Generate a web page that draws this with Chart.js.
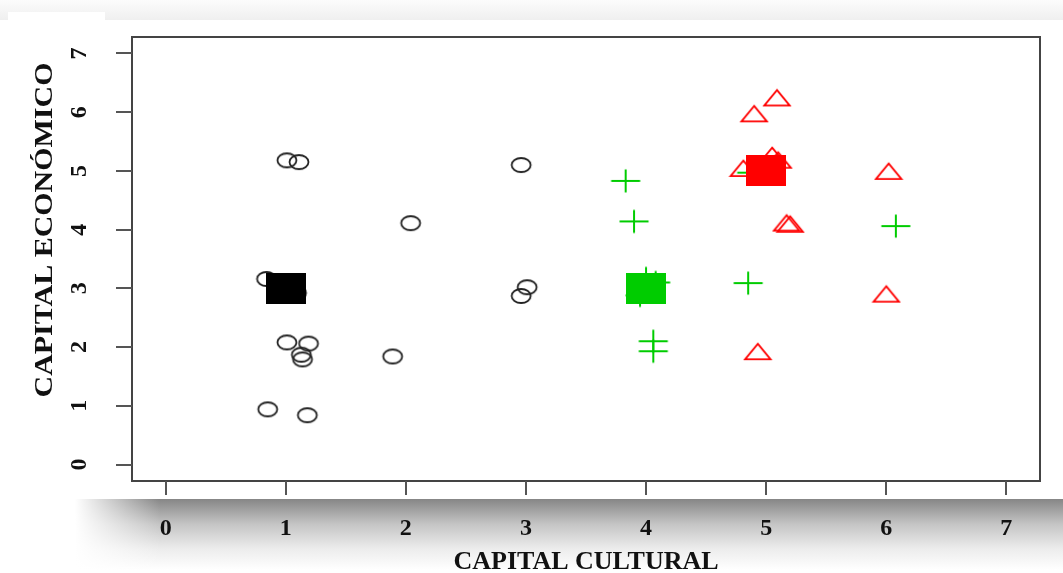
<!DOCTYPE html>
<html>
<head>
<meta charset="utf-8">
<script src="https://cdn.jsdelivr.net/npm/chart.js@4/dist/chart.umd.min.js"></script>
<style>
  html, body { margin: 0; padding: 0; background: #fff; }
  canvas { display: block; }
</style>
</head>
<body>
<canvas id="capChart" width="1063" height="573"></canvas>
<script>
// datos
const xTicks = [0, 1, 2, 3, 4, 5, 6, 7];
const yTicks = [0, 1, 2, 3, 4, 5, 6, 7];

// grupo 1 (círculos negros)
const circX = [1.01, 1.11, 2.96, 2.04, 0.84, 1.09, 3.01, 2.96, 1.01, 1.19, 1.13, 1.14, 1.89, 0.85, 1.18];
const circY = [5.18, 5.15, 5.10, 4.11, 3.16, 2.92, 3.02, 2.87, 2.08, 2.06, 1.87, 1.79, 1.84, 0.94, 0.84];

// grupo 2 (cruces verdes)
const crossX = [3.83, 3.90, 6.08, 4.85, 4.06, 4.06, 4.00, 4.08, 3.95, 4.88];
const crossY = [4.83, 4.14, 4.06, 3.09, 2.10, 1.93, 3.17, 3.10, 2.88, 4.97];

// grupo 3 (triángulos rojos)
const triX = [5.09, 4.90, 5.05, 4.81, 5.10, 6.02, 5.17, 5.20, 6.00, 4.93];
const triY = [6.20, 5.93, 5.22, 5.00, 5.14, 4.95, 4.07, 4.05, 2.86, 1.88];

// centros (cuadrados)
const meanX = [1, 4, 5];
const meanY = [3, 3, 5];
const meanColors = ['#000000', '#00cc00', '#ff0000'];

const toPoints = (xs, ys) => xs.map((x, i) => ({ x: x, y: ys[i] }));

// marcadores estilo R (imagen un poco estirada en horizontal)
function makeCanvas(w, h, draw) {
    const c = document.createElement('canvas');
    c.width = w; c.height = h;
    draw(c.getContext('2d'), w, h);
    return c;
}
const circleImg = makeCanvas(24, 20, (g, w, h) => {
    g.strokeStyle = '#222';
    g.lineWidth = 1.8;
    g.beginPath();
    g.ellipse(w / 2, h / 2, 9.5, 7, 0, 0, Math.PI * 2);
    g.stroke();
});
const crossImg = makeCanvas(32, 26, (g, w, h) => {
    g.strokeStyle = '#00cc00';
    g.lineWidth = 2;
    g.beginPath();
    g.moveTo(w / 2 - 14.5, h / 2); g.lineTo(w / 2 + 14.5, h / 2);
    g.moveTo(w / 2, h / 2 - 11.5); g.lineTo(w / 2, h / 2 + 11.5);
    g.stroke();
});
// el centro del lienzo es el centroide del triángulo
const triImg = makeCanvas(30, 26, (g, w, h) => {
    const th = 15.5, tw = 25.5;
    g.strokeStyle = '#ff0000';
    g.lineWidth = 1.8;
    g.beginPath();
    g.moveTo(w / 2, h / 2 - th * 2 / 3);
    g.lineTo(w / 2 + tw / 2, h / 2 + th / 3);
    g.lineTo(w / 2 - tw / 2, h / 2 + th / 3);
    g.closePath();
    g.stroke();
});
const squareImgs = meanColors.map(col => makeCanvas(40, 31, (g, w, h) => {
    g.fillStyle = col;
    g.fillRect(0, 0, w, h);
}));

const FONT = '"Liberation Serif", "DejaVu Serif", serif';

// fondo con sombra (como la imagen pegada)
const backgroundPlugin = {
    id: 'fondo',
    beforeDraw(chart) {
        const ctx = chart.ctx;
        const W = chart.width, H = chart.height;
        ctx.save();
        ctx.fillStyle = '#fff';
        ctx.fillRect(0, 0, W, H);

        let g = ctx.createLinearGradient(0, 0, 0, 20);
        g.addColorStop(0, '#fcfcfc');
        g.addColorStop(1, '#efefef');
        ctx.fillStyle = g;
        ctx.fillRect(0, 0, W, 20);

        g = ctx.createLinearGradient(0, 499, 0, 570);
        g.addColorStop(0, '#868686');
        g.addColorStop(0.35, '#c4c4c4');
        g.addColorStop(0.7, '#ececec');
        g.addColorStop(1, '#ffffff');
        ctx.fillStyle = g;
        ctx.fillRect(0, 499, W, H - 499);

        g = ctx.createLinearGradient(75, 0, 160, 0);
        g.addColorStop(0, 'rgba(255,255,255,1)');
        g.addColorStop(1, 'rgba(255,255,255,0)');
        ctx.fillStyle = g;
        ctx.fillRect(0, 499, 160, H - 499);

        ctx.fillStyle = '#fff';
        ctx.fillRect(8, 12, 97, 478);
        ctx.fillRect(105, 20, W - 105, 479);
        ctx.restore();
    }
};

// caja, marcas y etiquetas al estilo de R base
const axesPlugin = {
    id: 'ejesR',
    beforeDatasetsDraw(chart) {
        const ctx = chart.ctx;
        const a = chart.chartArea;
        const xs = chart.scales.x, ys = chart.scales.y;
        ctx.save();
        ctx.strokeStyle = '#444';
        ctx.lineWidth = 2;
        ctx.strokeRect(a.left, a.top, a.right - a.left, a.bottom - a.top);

        ctx.strokeStyle = '#555';
        ctx.beginPath();
        xTicks.forEach(v => {
            const px = Math.round(xs.getPixelForValue(v));
            ctx.moveTo(px, a.bottom); ctx.lineTo(px, a.bottom + 14);
        });
        yTicks.forEach(v => {
            const py = Math.round(ys.getPixelForValue(v));
            ctx.moveTo(a.left, py); ctx.lineTo(a.left - 16, py);
        });
        ctx.stroke();

        ctx.fillStyle = '#111';
        ctx.font = 'bold 24px ' + FONT;
        ctx.textAlign = 'center';
        ctx.textBaseline = 'middle';
        xTicks.forEach(v => {
            ctx.fillText(String(v), xs.getPixelForValue(v), 529);
        });
        yTicks.forEach(v => {
            ctx.save();
            ctx.translate(80, ys.getPixelForValue(v));
            ctx.rotate(-Math.PI / 2);
            ctx.fillText(String(v), 0, 0);
            ctx.restore();
        });

        ctx.font = 'bold 26px ' + FONT;
        ctx.fillText('CAPITAL CULTURAL', (a.left + a.right) / 2, 562);

        ctx.save();
        ctx.translate(45, 230);
        ctx.rotate(-Math.PI / 2);
        const t = 'CAPITAL ECONÓMICO';
        const sx = 335 / ctx.measureText(t).width;
        ctx.scale(sx, 1);
        ctx.fillText(t, 0, 0);
        ctx.restore();
        ctx.restore();
    }
};

const ctx = document.getElementById('capChart').getContext('2d');
new Chart(ctx, {
    type: 'scatter',
    data: {
        // order más bajo = se dibuja encima
        datasets: [
            { data: toPoints(meanX, meanY), pointStyle: squareImgs, order: 0 },
            { data: toPoints(triX, triY), pointStyle: triImg, order: 1 },
            { data: toPoints(crossX, crossY), pointStyle: crossImg, order: 2 },
            { data: toPoints(circX, circY), pointStyle: circleImg, order: 3 }
        ]
    },
    options: {
        responsive: false,
        animation: false,
        events: [],
        layout: { padding: { left: 132, right: 23, top: 37, bottom: 92 } },
        scales: {
            x: { type: 'linear', min: -0.28, max: 7.28, display: false },
            y: { type: 'linear', min: -0.28, max: 7.28, display: false }
        },
        plugins: {
            legend: { display: false },
            tooltip: { enabled: false }
        }
    },
    plugins: [backgroundPlugin, axesPlugin]
});
</script>
</body>
</html>
